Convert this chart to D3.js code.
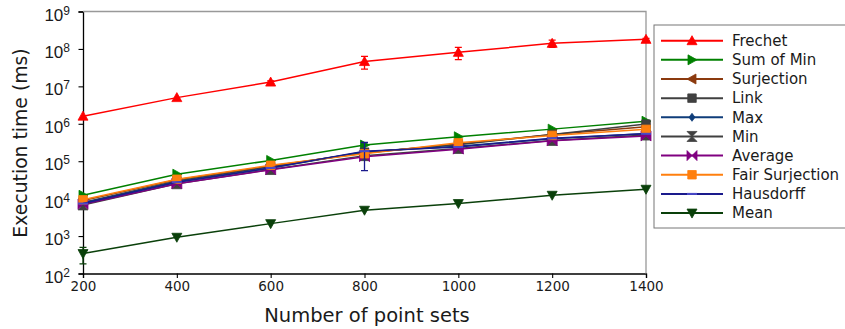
<!DOCTYPE html>
<html>
<head>
<meta charset="utf-8">
<script src="https://cdn.jsdelivr.net/npm/d3@7/dist/d3.min.js"></script>
<style>
  html, body { margin: 0; padding: 0; background: #fff; }
  svg { display: block; font-family: "DejaVu Sans", sans-serif; }
</style>
</head>
<body>
<div id="chart"></div>
<script>
// x values and series (execution time in ms)
const pointSets = [200, 400, 600, 800, 1000, 1200, 1400];
const seriesNames = ["Frechet", "Sum of Min", "Surjection", "Link", "Max", "Min", "Average", "Fair Surjection", "Hausdorff", "Mean"];
const frechet = [1.6e6, 5.0e6, 1.3e7, 4.6e7, 8.1e7, 1.41e8, 1.8e8];
const sumOfMin = [1.23e4, 4.5e4, 1.05e5, 2.7e5, 4.5e5, 7.2e5, 1.17e6];
const surjection = [8.9e3, 3.2e4, 7.4e4, 1.66e5, 2.9e5, 5.2e5, 8.3e5];
const link = [7.9e3, 2.95e4, 7.1e4, 1.74e5, 2.75e5, 5.2e5, 9.8e5];
const max = [7.6e3, 2.8e4, 6.6e4, 1.78e5, 2.5e5, 4.0e5, 5.5e5];
const min = [6.8e3, 2.5e4, 6.0e4, 1.41e5, 2.2e5, 3.6e5, 5.0e5];
const average = [7.1e3, 2.5e4, 5.9e4, 1.32e5, 2.1e5, 3.5e5, 4.7e5];
const fairSurjection = [9.3e3, 3.3e4, 7.8e4, 1.58e5, 3.1e5, 4.9e5, 7.1e5];
const hausdorff = [7.4e3, 2.75e4, 6.6e4, 1.86e5, 2.4e5, 4.1e5, 5.4e5];
const mean = [340, 930, 2150, 4900, 7400, 12300, 17800];
// standard deviations (ms) shown as error bars
const frechetErr = [0, 0, 1.0e6, 1.7e7, 2.9e7, 3.0e7, 1.2e7];
const hausdorffErr = [0, 0, 0, 1.3e5, 0, 0, 0];
const meanErr = [160, 0, 0, 0, 0, 0, 0];
const zeroErr = [0, 0, 0, 0, 0, 0, 0];
const yTickExps = [2, 3, 4, 5, 6, 7, 8, 9];

const seriesValues = [frechet, sumOfMin, surjection, link, max, min, average, fairSurjection, hausdorff, mean];
const seriesErrs = [frechetErr, zeroErr, zeroErr, zeroErr, zeroErr, zeroErr, zeroErr, zeroErr, hausdorffErr, meanErr];
const seriesColors = ["#ff0000", "#008000", "#8b3a0e", "#404040", "#0f3d7a", "#404040", "#800080", "#ff7f0e", "#1a1a8c", "#0a400a"];
const seriesMarkers = ["tup", "tright", "tleft", "square", "diamond", "hourglass", "bowtie", "square", "hline", "tdown"];

const W = 845, H = 329;
const margin = { left: 83, top: 11.5, right: 199, bottom: 55.5 };
const iw = W - margin.left - margin.right;
const ih = H - margin.top - margin.bottom;

const x = d3.scaleLinear().domain([200, 1400]).range([0, iw]);
const y = d3.scaleLog().domain([1e2, 1e9]).range([ih, 0]);

const svg = d3.select("#chart").append("svg").attr("width", W).attr("height", H);
const g = svg.append("g").attr("transform", `translate(${margin.left},${margin.top})`);

function markerPath(kind, s) {
  const h = s / 2;
  switch (kind) {
    case "tup": return `M0,${-h}L${h},${h * 0.8}L${-h},${h * 0.8}Z`;
    case "tdown": return `M0,${h}L${h},${-h * 0.8}L${-h},${-h * 0.8}Z`;
    case "tright": return `M${h},0L${-h * 0.8},${h}L${-h * 0.8},${-h}Z`;
    case "tleft": return `M${-h},0L${h * 0.8},${h}L${h * 0.8},${-h}Z`;
    case "square": { const q = h * 0.85; return `M${-q},${-q}H${q}V${q}H${-q}Z`; }
    case "diamond": { const q = h * 0.8; return `M0,${-q}L${q * 0.75},0L0,${q}L${-q * 0.75},0Z`; }
    case "hourglass": return `M${-h},${-h}H${h}L${-h},${h}H${h}Z`;
    case "bowtie": return `M${-h},${-h}V${h}L${h},${-h}V${h}Z`;
    default: return "";
  }
}

function drawMarker(sel, kind, color, s) {
  if (kind === "hline") {
    sel.append("line").attr("x1", -s / 2).attr("x2", s / 2)
      .attr("stroke", "#4a4ac8").attr("stroke-width", 2);
  } else {
    sel.append("path").attr("d", markerPath(kind, s)).attr("fill", color)
      .attr("stroke", color).attr("stroke-width", 0.8).attr("stroke-linejoin", "miter");
  }
}

// axes
const xAxis = g.append("g").attr("transform", `translate(0,${ih})`)
  .call(d3.axisBottom(x).tickValues(pointSets).tickSize(4.5).tickPadding(3.5).tickFormat(d3.format("d")));
const yAxis = g.append("g")
  .call(d3.axisLeft(y).tickValues(yTickExps.map((e) => Math.pow(10, e))).tickSize(4.5).tickPadding(3).tickFormat(""));
[xAxis, yAxis].forEach((a) => {
  a.select(".domain").attr("stroke", "#000").attr("stroke-width", 1.3);
  a.selectAll(".tick line").attr("stroke", "#000").attr("stroke-width", 1.1);
});
xAxis.selectAll(".tick text").attr("font-size", 13.5).attr("fill", "#1a1a1a").attr("font-family", "DejaVu Sans");

yAxis.selectAll(".tick").each(function (d) {
  const t = d3.select(this).append("text").attr("x", -13).attr("y", 8.5)
    .attr("text-anchor", "end").attr("font-size", 17).attr("fill", "#1a1a1a");
  t.append("tspan").text("10");
  t.append("tspan").attr("dy", "-0.5em").attr("font-size", 12).text(Math.round(Math.log10(d)));
});

// top and right spines
g.append("path").attr("d", `M0,0H${iw}V${ih}`).attr("fill", "none").attr("stroke", "#999").attr("stroke-width", 1.3);

// series
const line = d3.line().x((d, i) => x(pointSets[i])).y((d) => y(d));
seriesValues.forEach((vals, si) => {
  const color = seriesColors[si];
  const sg = g.append("g");
  const errs = seriesErrs[si];
  vals.forEach((v, i) => {
    if (!errs[i]) return;
    const cx = x(pointSets[i]);
    const y1 = y(v + errs[i]);
    const y0 = y(Math.max(v - errs[i], 1));
    sg.append("path").attr("d", `M${cx},${y1}V${y0}M${cx - 3.5},${y1}H${cx + 3.5}M${cx - 3.5},${y0}H${cx + 3.5}`)
      .attr("stroke", color).attr("stroke-width", 1.3).attr("fill", "none");
  });
  sg.append("path").datum(vals).attr("d", line).attr("fill", "none")
    .attr("stroke", color).attr("stroke-width", 1.5);
  vals.forEach((v, i) => {
    const mg = sg.append("g").attr("transform", `translate(${x(pointSets[i])},${y(v)})`);
    drawMarker(mg, seriesMarkers[si], color, 10);
  });
});

// axis titles
svg.append("text").attr("x", 367).attr("y", 321.5).attr("text-anchor", "middle")
  .attr("font-size", 19.5).attr("fill", "#1a1a1a").text("Number of point sets");
svg.append("text").attr("transform", `translate(27,143) rotate(-90)`)
  .attr("text-anchor", "middle").attr("font-size", 18.8).attr("fill", "#1a1a1a").text("Execution time (ms)");

// legend
const lg = svg.append("g").attr("transform", "translate(654,25)");
lg.append("rect").attr("x", 0).attr("y", 0).attr("width", 200).attr("height", 203)
  .attr("fill", "#fff").attr("stroke", "#777").attr("stroke-width", 1);
seriesNames.forEach((name, si) => {
  const yy = 15.7 + si * 19.15;
  const row = lg.append("g").attr("transform", `translate(0,${yy})`);
  row.append("line").attr("x1", 7).attr("x2", 69).attr("stroke", seriesColors[si]).attr("stroke-width", 2);
  const mg = row.append("g").attr("transform", "translate(38,0)");
  drawMarker(mg, seriesMarkers[si], seriesColors[si], 10);
  row.append("text").attr("x", 78).attr("dy", "0.35em").attr("font-size", 15).attr("fill", "#1a1a1a").text(name);
});
</script>
</body>
</html>
